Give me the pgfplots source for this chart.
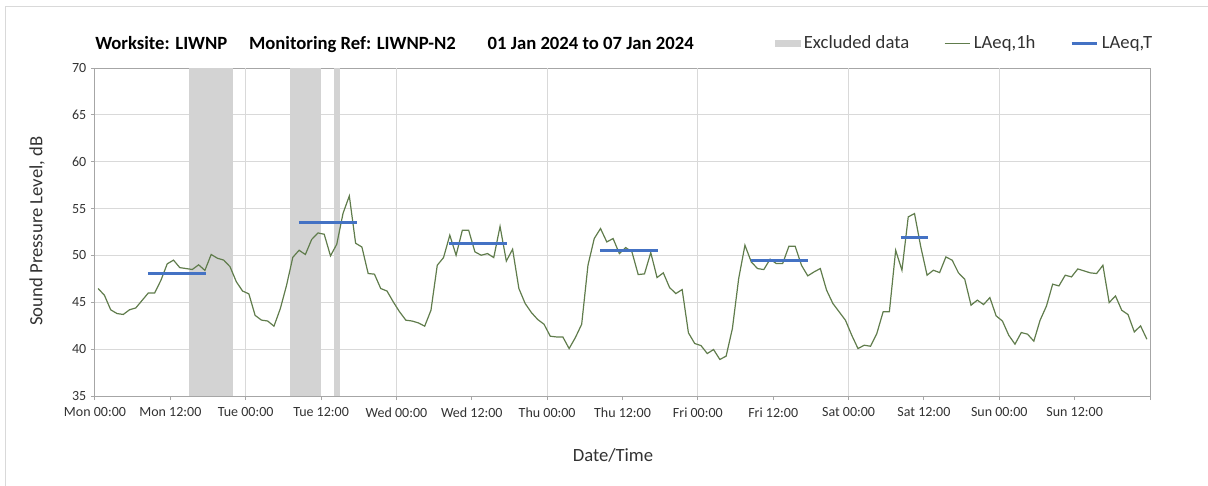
\documentclass[border=0pt]{standalone}
\usepackage{fontspec}
\setmainfont{Carlito}
\usepackage{pgfplots}
\usepackage{pgfplotstable}
\pgfplotsset{compat=1.18}

\definecolor{laeqgreen}{RGB}{96,124,76}
\definecolor{laeqblue}{RGB}{68,114,196}
\definecolor{excl}{RGB}{211,211,211}
\definecolor{gridc}{RGB}{217,217,217}
\definecolor{axisc}{RGB}{166,166,166}
\definecolor{txt}{RGB}{50,50,50}

% hourly LAeq, hours from Mon 00:00 (points at the middle of each hour)
\pgfplotstableread{
h spl
0.5 46.47
1.5 45.75
2.5 44.2
3.5 43.8
4.5 43.7
5.5 44.2
6.5 44.4
7.5 45.2
8.5 46.0
9.5 46.0
10.5 47.35
11.5 49.1
12.5 49.5
13.5 48.7
14.5 48.6
15.5 48.5
16.5 49.0
17.5 48.4
18.5 50.1
19.5 49.7
20.5 49.5
21.5 48.8
22.5 47.2
23.5 46.2
24.5 45.9
25.5 43.6
26.5 43.1
27.5 43.0
28.5 42.45
29.5 44.3
30.5 46.8
31.5 49.8
32.5 50.55
33.5 50.1
34.5 51.7
35.5 52.4
36.5 52.26
37.5 49.95
38.5 51.2
39.5 54.5
40.5 56.35
41.5 51.3
42.5 50.9
43.5 48.07
44.5 48.0
45.5 46.47
46.5 46.2
47.5 45.04
48.5 43.98
49.5 43.09
50.5 43.0
51.5 42.8
52.5 42.45
53.5 44.15
54.5 48.95
55.5 49.77
56.5 52.16
57.5 50.02
58.5 52.69
59.5 52.69
60.5 50.38
61.5 50.02
62.5 50.2
63.5 49.77
64.5 53.1
65.5 49.4
66.5 50.66
67.5 46.47
68.5 44.87
69.5 43.9
70.5 43.16
71.5 42.66
72.5 41.38
73.5 41.3
74.5 41.3
75.5 40.06
76.5 41.24
77.5 42.66
78.5 48.95
79.5 51.8
80.5 52.87
81.5 51.44
82.5 51.8
83.5 50.2
84.5 50.84
85.5 50.38
86.5 47.96
87.5 48.03
88.5 50.3
89.5 47.64
90.5 48.14
91.5 46.57
92.5 45.93
93.5 46.36
94.5 41.74
95.5 40.6
96.5 40.38
97.5 39.53
98.5 39.96
99.5 38.9
100.5 39.25
101.5 42.2
102.5 47.53
103.5 51.09
104.5 49.31
105.5 48.6
106.5 48.49
107.5 49.6
108.5 49.13
109.5 49.13
110.5 50.98
111.5 50.98
112.5 48.95
113.5 47.82
114.5 48.24
115.5 48.6
116.5 46.29
117.5 44.87
118.5 43.98
119.5 43.09
120.5 41.49
121.5 40.06
122.5 40.42
123.5 40.31
124.5 41.67
125.5 43.98
126.5 44.0
127.5 50.55
128.5 48.42
129.5 54.11
130.5 54.47
131.5 50.91
132.5 47.89
133.5 48.42
134.5 48.17
135.5 49.84
136.5 49.49
137.5 48.14
138.5 47.46
139.5 44.69
140.5 45.23
141.5 44.76
142.5 45.5
143.5 43.55
144.5 43.0
145.5 41.49
146.5 40.53
147.5 41.77
148.5 41.6
149.5 40.85
150.5 43.09
151.5 44.58
152.5 46.93
153.5 46.75
154.5 47.89
155.5 47.71
156.5 48.56
157.5 48.35
158.5 48.14
159.5 48.07
160.5 48.95
161.5 44.97
162.5 45.68
163.5 44.15
164.5 43.69
165.5 41.84
166.5 42.48
167.5 41.06
}\hourly

\begin{document}
\begin{tikzpicture}
\useasboundingbox (0,0) rectangle (906pt,364.5pt);
\draw[gridc, line width=0.75pt] (3.75pt,0pt) -- (3.75pt,359.25pt) -- (906pt,359.25pt);

\tikzset{ttl/.style={anchor=base west, inner sep=0pt, font=\bfseries\fontsize{14}{16}\selectfont}}
\node[ttl] at (71.25pt,327pt) {Worksite: LIWNP};
\node[ttl] at (186.6pt,327pt) {Monitoring Ref: LIWNP-N2};
\node[ttl] at (365.6pt,327pt) {01 Jan 2024 to 07 Jan 2024};

\begin{axis}[
  at={(71.25pt,67.5pt)}, anchor=south west,
  scale only axis, width=791.25pt, height=246pt,
  xmin=0, xmax=168, ymin=35, ymax=70,
  xtick={0,12,...,168},
  xticklabels={Mon 00:00, Mon 12:00, Tue 00:00, Tue 12:00, Wed 00:00, Wed 12:00, Thu 00:00, Thu 12:00, Fri 00:00, Fri 12:00, Sat 00:00, Sat 12:00, Sun 00:00, Sun 12:00, {}},
  ytick={35,40,...,70},
  yticklabels={35,40,45,50,55,60,65,70},
  ymajorgrids, grid style={gridc, line width=0.75pt},
  extra x ticks={24,48,...,144}, extra x tick labels={},
  extra x tick style={xmajorgrids=true, major tick length=0pt},
  tick align=outside, tick pos=left, major tick length=3pt,
  axis line style={axisc, line width=0.75pt},
  tick style={axisc, line width=0.75pt},
  ticklabel style={font=\fontsize{10.5}{12}\selectfont, text=txt},
  xticklabel style={yshift=-2pt},
  xlabel={Date/Time}, ylabel={Sound Pressure Level, dB},
  label style={font=\fontsize{14}{16}\selectfont, text=txt},
  xlabel style={at={(axis description cs:0.491,-0.18)}, anchor=center},
  ylabel style={at={(axis description cs:-0.055,0.503)}, anchor=center},
  legend style={at={(axis description cs:0.6445,1.0747)}, anchor=west,
    draw=none, fill=none, inner sep=0pt, legend columns=3,
    font=\fontsize{14}{16}\selectfont, text=txt, nodes={inner sep=0pt},
    /tikz/every even column/.append style={column sep=26pt},
    /tikz/every odd column/.append style={column sep=2.5pt}},
  legend cell align=left,
]
\addplot[fill=excl, draw=none, area legend,
  legend image code/.code={\fill[excl] (0pt,-2.9pt) rectangle (19pt,2.9pt);}]
  coordinates {(15,35) (15,70) (22,70) (22,35)} -- cycle;
\addlegendentry{Excluded data}
\addplot[fill=excl, draw=none, forget plot] coordinates {(31.1,35) (31.1,70) (36,70) (36,35)} -- cycle;
\addplot[fill=excl, draw=none, forget plot] coordinates {(38.1,35) (38.1,70) (39,70) (39,35)} -- cycle;

\addplot[laeqgreen, line width=0.9pt,
  legend image code/.code={\draw[laeqgreen, line width=0.9pt] (0pt,0pt) -- (19pt,0pt);}]
  table[x=h, y=spl] {\hourly};
\addlegendentry{LAeq,1h}

\addplot[laeqblue, line width=2.25pt,
  legend image code/.code={\draw[laeqblue, line width=2.25pt] (0pt,0pt) -- (19pt,0pt);}]
  coordinates {(8.4,48.03) (17.7,48.03)};
\addlegendentry{LAeq,T}
\addplot[laeqblue, line width=2.25pt, forget plot] coordinates {(32.45,53.54) (41.75,53.54)};
\addplot[laeqblue, line width=2.25pt, forget plot] coordinates {(56.3,51.23) (65.6,51.23)};
\addplot[laeqblue, line width=2.25pt, forget plot] coordinates {(80.4,50.48) (89.6,50.48)};
\addplot[laeqblue, line width=2.25pt, forget plot] coordinates {(104.4,49.42) (113.6,49.42)};
\addplot[laeqblue, line width=2.25pt, forget plot] coordinates {(128.3,51.94) (132.6,51.94)};
\end{axis}
\end{tikzpicture}
\end{document}
